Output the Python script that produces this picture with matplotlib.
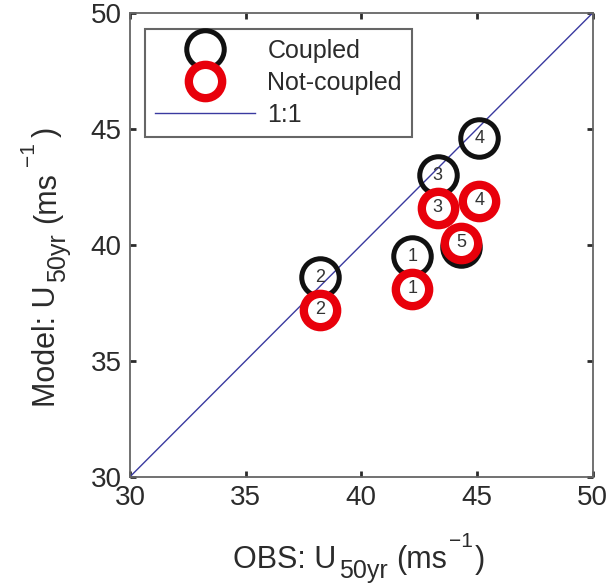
#!/usr/bin/env python

import numpy as np
import matplotlib.pyplot as plt
from matplotlib.transforms import IdentityTransform

plt.rcParams['font.family'] = ['Liberation Sans', 'DejaVu Sans']

# station ids and U50yr values (OBS vs model)
ids = ['1', '2', '3', '4', '5']
obs_c = [42.2, 38.2, 43.3, 45.1, 44.3]
mod_c = [39.5, 38.6, 43.0, 44.6, 39.9]
obs_nc = [42.2, 38.2, 43.3, 45.1, 44.3]
mod_nc = [38.1, 37.2, 41.6, 41.9, 40.1]
one_to_one = [30, 50]
ticks = [30, 35, 40, 45, 50]

txt = '#2b2b2b'

fig = plt.figure(figsize=(6.13, 5.85), dpi=100)
ax = fig.add_axes([0.212, 0.185, 0.755, 0.793])

#coupled run
ax.plot(obs_c, mod_c, 'o', ms=27, mfc='none', mec='#111111', mew=3.6,
        ls='none', label='Coupled', zorder=3)
#not-coupled run
ax.plot(obs_nc, mod_nc, 'o', ms=24, mfc='white', mec='#e8000b', mew=6,
        ls='none', label='Not-coupled', zorder=4)
ax.plot(one_to_one, one_to_one, color='#3a3aa0', lw=1, label='1:1', zorder=2)

for i in range(len(ids)):
    ax.text(obs_c[i], mod_c[i], ids[i], ha='center', va='center',
            fontsize=13, color='#333333', zorder=3.5)
    ax.text(obs_nc[i], mod_nc[i], ids[i], ha='center', va='center',
            fontsize=13, color='#333333', zorder=5)

ax.set_xlim(30, 50)
ax.set_ylim(30, 50)
ax.set_xticks(ticks)
ax.set_yticks(ticks)
ax.tick_params(direction='in', length=4, width=2, top=True, right=True,
               labelsize=20, colors=txt, pad=6)
for s in ax.spines.values():
    s.set_color('#666666')
    s.set_linewidth(1.3)

leg = ax.legend(loc='upper left', bbox_to_anchor=(0.032, 0.966), fontsize=18,
                handlelength=4.0, labelspacing=0.32, borderpad=0.4,
                borderaxespad=0, handletextpad=0.5, fancybox=False,
                framealpha=1, markerscale=1.0)
leg.get_frame().set_edgecolor('#666666')
leg.get_frame().set_linewidth(1.5)
for t in leg.get_texts():
    t.set_color(txt)

# axis labels with big sub/superscripts (MATLAB tex style)
r = fig.canvas.get_renderer()
H = fig.bbox.height


def rich(parts, x0, y0, vertical=False):
    pos = 0
    for s, size, shift, gap in parts:
        pos += gap
        if vertical:
            t = fig.text(x0 - shift, y0 + pos, s, fontsize=size, color=txt,
                         rotation=90, rotation_mode='anchor', ha='left',
                         va='baseline', transform=IdentityTransform())
            pos += t.get_window_extent(r).height
        else:
            t = fig.text(x0 + pos, y0 + shift, s, fontsize=size, color=txt,
                         ha='left', va='baseline', transform=IdentityTransform())
            pos += t.get_window_extent(r).width
    return pos


xparts = [('OBS: U', 22, 0, 0), ('50yr', 18, -10, 3), ('(ms', 22, 0, 8),
          ('\u22121', 15, 21, 2), (')', 22, 0, 2)]
yparts = [('Model: U', 22, 0, 0), ('50yr', 18, -10, 4), ('(ms', 22, 0, 10),
          ('\u22121', 15, 21, 6), (')', 22, 0, 5)]

rich(xparts, 233, H - 568)
rich(yparts, 55, H - 407, vertical=True)

plt.savefig('out.png', dpi=100)
